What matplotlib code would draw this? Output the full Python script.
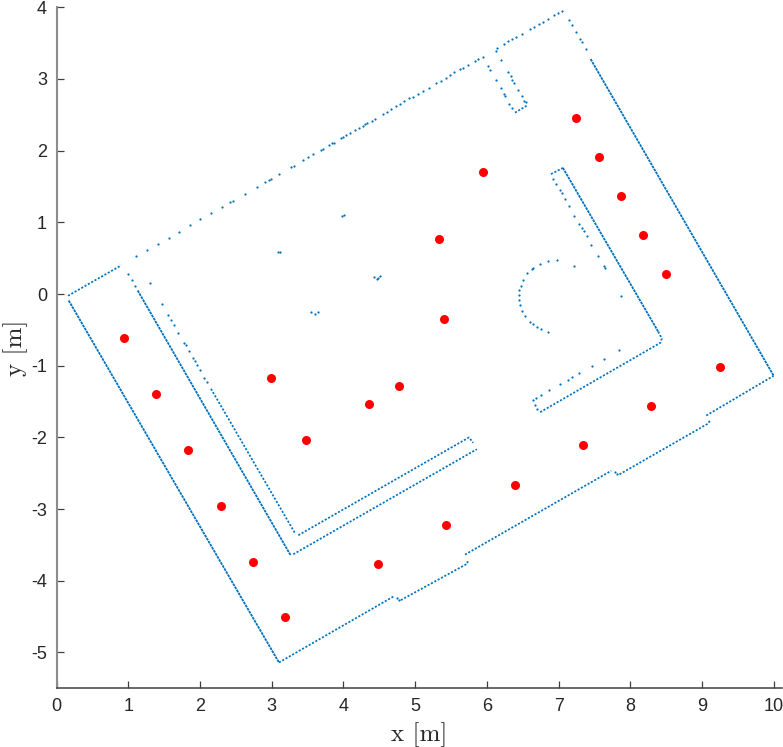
#!/usr/bin/env python3

import matplotlib
matplotlib.use('Agg')
import matplotlib.pyplot as plt

# wall stretches where the scan is almost continuous
dense_walls = [
    ([7.447, 10.0], [3.278, -1.14]),
    ([0.167, 3.10], [-0.09, -5.14]),
    ([1.129, 3.26], [0.05, -3.64]),
    ([7.06, 8.39], [1.76, -0.525]),
]

# wall stretches with visible gaps between the returns
dotted_walls = [
    ([0.158, 0.90], [-0.024, 0.40]),
    ([3.10, 4.714], [-5.14, -4.21]),
    ([4.80, 5.73, 5.73], [-4.27, -3.76, -3.71]),
    ([5.695, 7.735], [-3.635, -2.465]),
    ([7.85, 9.08, 9.11], [-2.515, -1.81, -1.77]),
    ([9.06, 10.0], [-1.695, -1.14]),
    ([3.30, 5.86], [-3.63, -2.165]),
    ([3.37, 5.75, 5.81], [-3.365, -2.0, -2.075]),
    ([2.152, 3.32], [-1.322, -3.33]),
    ([6.392, 6.555], [2.53, 2.627]),
    ([6.894, 7.06], [1.673, 1.76]),
    ([8.39, 8.44, 8.42, 6.74], [-0.525, -0.62, -0.68, -1.65]),
]

# single returns, top wall going left to right
top_x = [1.0, 1.05, 1.092, 1.106, 1.264, 1.413, 1.563, 1.71, 1.855, 2.003, 2.148, 2.30, 2.417, 2.459,
         2.622, 2.798, 2.90, 2.965, 2.985, 3.096, 3.268, 3.305, 3.431, 3.505, 3.575, 3.686, 3.714,
         3.802, 3.844, 3.863, 3.969, 3.989, 4.035, 4.09, 4.156, 4.212, 4.268, 4.30, 4.324, 4.393,
         4.435, 4.546, 4.602, 4.662, 4.732, 4.788, 4.848, 4.918, 4.965, 5.034, 5.113, 5.192, 5.285,
         5.36, 5.425, 5.485, 5.546, 5.625, 5.662, 5.732, 5.834, 5.871, 5.95, 6.197, 6.122, 6.136,
         6.243, 6.299, 6.355, 6.406, 6.485, 6.601, 6.657, 6.731, 6.787, 6.847, 6.936, 6.987, 7.043,
         7.149, 7.191, 7.247, 7.303, 7.326, 7.382]
top_y = [0.274, 0.19, 0.115, 0.525, 0.614, 0.702, 0.786, 0.869, 0.957, 1.041, 1.125, 1.214, 1.278, 1.302,
         1.399, 1.497, 1.557, 1.595, 1.605, 1.669, 1.772, 1.79, 1.864, 1.906, 1.948, 2.013, 2.027,
         2.079, 2.101, 2.111, 2.177, 2.185, 2.213, 2.247, 2.283, 2.316, 2.348, 2.367, 2.381, 2.418,
         2.446, 2.511, 2.539, 2.58, 2.627, 2.655, 2.687, 2.734, 2.743, 2.794, 2.836, 2.878, 2.939,
         2.976, 3.013, 3.05, 3.092, 3.134, 3.153, 3.194, 3.255, 3.273, 3.301, 3.269, 3.394, 3.432,
         3.487, 3.525, 3.557, 3.585, 3.627, 3.697, 3.725, 3.767, 3.794, 3.841, 3.887, 3.915, 3.952,
         3.818, 3.748, 3.65, 3.562, 3.51, 3.418]

# alcove in the top wall
alcove_x = [6.02, 6.043, 6.131, 6.192, 6.239, 6.257, 6.313, 6.345, 6.299, 6.331, 6.355, 6.383, 6.438, 6.494, 6.522, 6.541]
alcove_y = [3.176, 3.125, 2.985, 2.869, 2.794, 2.766, 2.655, 2.599, 3.097, 3.036, 2.99, 2.943, 2.85, 2.757, 2.692, 2.673]

# inner face of the right hand block
block_x = [6.927, 6.968, 7.015, 7.043, 7.085, 7.15, 7.22, 7.289, 7.322, 7.354, 7.392, 7.457, 7.545, 7.633, 7.647,
           7.871, 7.847, 7.633, 7.466, 7.28, 7.192, 7.127, 7.02, 6.866, 6.755, 6.685, 6.639, 6.671, 6.704]
block_y = [1.608, 1.534, 1.455, 1.404, 1.329, 1.222, 1.092, 0.98, 0.925, 0.873, 0.804, 0.687, 0.534, 0.385, 0.362,
           -0.029, -0.778, -0.908, -1.0, -1.108, -1.159, -1.196, -1.257, -1.345, -1.415, -1.447, -1.484, -1.545, -1.601]

# round object
arc_x = [7.21, 6.983, 6.852, 6.741, 6.648, 6.625, 6.564, 6.499, 6.471, 6.453, 6.448, 6.448, 6.462, 6.494, 6.532, 6.601, 6.639, 6.694, 6.755, 6.852]
arc_y = [0.394, 0.469, 0.46, 0.423, 0.367, 0.353, 0.292, 0.194, 0.115, 0.06, -0.01, -0.08, -0.15, -0.234, -0.3, -0.392, -0.415, -0.461, -0.494, -0.526]

# small objects in the room
small_x = [3.984, 4.002, 3.082, 3.114, 4.425, 4.463, 4.486, 4.514, 3.551, 3.602, 3.644]
small_y = [1.088, 1.102, 0.585, 0.585, 0.241, 0.213, 0.222, 0.25, -0.252, -0.28, -0.257]

# hooks where the outer wall steps back
hook_x = [4.75, 4.77, 7.79, 7.82]
hook_y = [-4.235, -4.27, -2.485, -2.51]

# sparse inner wall on the left
left_x = [1.301, 1.469, 1.557, 1.599, 1.64, 1.696, 1.78, 1.799, 1.845, 1.906, 1.929, 1.961, 1.999, 2.059, 2.092]
left_y = [0.148, -0.145, -0.298, -0.364, -0.438, -0.54, -0.68, -0.712, -0.796, -0.899, -0.94, -0.996, -1.061, -1.173, -1.229]

# red measurement positions
pos_x = [0.934, 1.385, 1.83, 2.287, 2.733, 3.184, 2.985, 3.481, 4.351, 4.78, 4.481, 5.434, 6.388, 7.34, 8.293, 9.247,
         5.40, 5.33, 5.95, 7.247, 7.559, 7.871, 8.182, 8.498]
pos_y = [-0.62, -1.40, -2.175, -2.954, -3.735, -4.512, -1.168, -2.033, -1.531, -1.28, -3.763, -3.215, -2.665, -2.112, -1.563, -1.014,
         -0.345, 0.77, 1.701, 2.45, 1.911, 1.366, 0.827, 0.283]

x_ticks = list(range(0, 11))
y_ticks = list(range(-5, 5))

plt.rcParams['font.family'] = ['Liberation Sans', 'DejaVu Sans']
plt.rcParams['axes.unicode_minus'] = False

fig = plt.figure(figsize=(7.83, 7.47), dpi=100)
ax = fig.add_axes([56.7 / 783, 1 - 688.3 / 747, (781.7 - 56.7) / 783, (688.3 - 7.3) / 747])

blue = '#0072BD'
for wx, wy in dense_walls:
    ax.plot(wx, wy, color=blue, lw=1.3, linestyle=(0, (1.5, 0.45)))
for wx, wy in dotted_walls:
    ax.plot(wx, wy, color=blue, lw=1.25, linestyle=(0, (1.2, 1.0)))

for sx, sy in [(top_x, top_y), (alcove_x, alcove_y), (block_x, block_y), (arc_x, arc_y),
               (small_x, small_y), (hook_x, hook_y), (left_x, left_y)]:
    ax.plot(sx, sy, '.', color=blue, ms=3.2, mew=0)

ax.plot(pos_x, pos_y, 'o', color='#FF0000', ms=6.5, mew=0, zorder=3)

ax.set_xlim(0, 10.112)
ax.set_ylim(-5.5, 4)
ax.set_xticks(x_ticks)
ax.set_yticks(y_ticks)
ax.tick_params(direction='in', length=5.2, width=0.9, color='#404040', labelcolor='#262626', labelsize=13, pad=7)

ax.spines['top'].set_visible(False)
ax.spines['right'].set_visible(False)
ax.spines['bottom'].set_color('#404040')
ax.spines['bottom'].set_linewidth(1.1)
ax.spines['left'].set_color('#8c8c8c')
ax.spines['left'].set_linewidth(1.5)

ax.set_xlabel('x [m]', family='cmr10', fontsize=18, color='#262626', labelpad=5)
ax.set_ylabel('y [m]', family='cmr10', fontsize=18, color='#262626', labelpad=2)

plt.savefig('out.png', dpi=100)
